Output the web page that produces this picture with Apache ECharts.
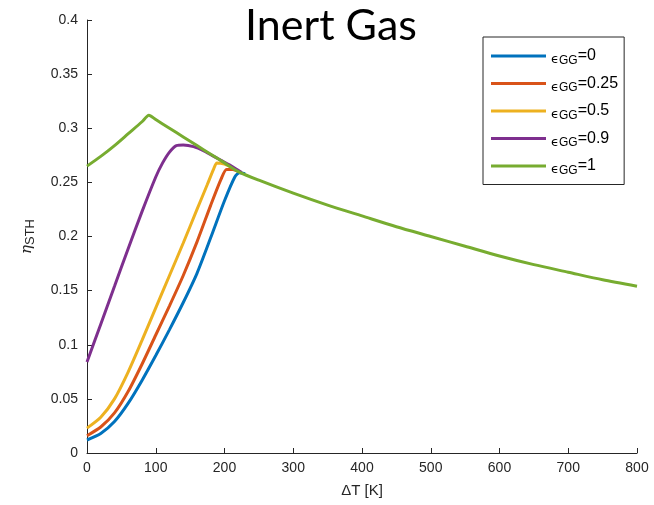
<!DOCTYPE html>
<html>
<head>
<meta charset="utf-8">
<script src="https://cdn.jsdelivr.net/npm/echarts@6/dist/echarts.min.js"></script>
<style>
  html, body { margin: 0; padding: 0; background: #fff; }
  #chart { width: 654px; height: 505px; }
</style>
</head>
<body>
<div id="chart"></div>
<script>
// Emissivity of the gas gap for each curve
const epsValues = ['0', '0.25', '0.5', '0.9', '1'];
const colors = ['#0072BD', '#D95319', '#EDB120', '#7E2F8E', '#77AC30'];

// [ΔT (K), η_STH] pairs per curve
const eps0 = [[0,0.012],[20,0.018],[40,0.029],[60,0.046],[80,0.067],[100,0.090],[120,0.114],[140,0.139],[160,0.166],[180,0.199],[200,0.233],[215,0.255],[222,0.259],[230,0.258]];
const eps025 = [[0,0.016],[20,0.024],[40,0.037],[60,0.057],[80,0.082],[100,0.109],[120,0.136],[140,0.164],[160,0.195],[180,0.229],[195,0.253],[203,0.262],[212,0.262],[220,0.260]];
const eps05 = [[0,0.023],[20,0.033],[40,0.050],[60,0.075],[80,0.104],[100,0.134],[120,0.164],[140,0.194],[160,0.225],[175,0.248],[184,0.262],[189,0.268],[200,0.267],[210,0.264]];
const eps09 = [[0,0.084],[20,0.119],[40,0.154],[60,0.189],[80,0.223],[100,0.255],[110,0.268],[120,0.278],[130,0.284],[140,0.2845],[155,0.283],[170,0.279],[190,0.272],[210,0.265],[225,0.259]];
const eps1 = [[0,0.265],[20,0.274],[40,0.284],[60,0.295],[80,0.306],[90,0.312],[100,0.308],[120,0.300],[140,0.292],[160,0.284],[180,0.276],[200,0.268],[220,0.260],[250,0.252],[300,0.240],[350,0.229],[400,0.219],[450,0.209],[500,0.200],[550,0.191],[600,0.182],[650,0.174],[700,0.167],[750,0.160],[800,0.154]];

const curves = [eps0, eps025, eps05, eps09, eps1];
const names = epsValues.map(v => 'ϵGG=' + v);

const axisColor = '#262626';
const chart = echarts.init(document.getElementById('chart'), null, { renderer: 'canvas' });

chart.setOption({
  animation: false,
  color: colors,
  title: {
    text: 'Inert Gas',
    left: 326,
    top: 0,
    textAlign: 'center',
    textStyle: { fontFamily: 'Lato', fontWeight: 'normal', fontSize: 43, color: '#000' }
  },
  grid: { left: 87, right: 17, top: 20, bottom: 52 },
  legend: {
    orient: 'vertical',
    left: 483,
    top: 37,
    padding: [11, 6, 8, 8],
    itemWidth: 55,
    itemHeight: 3,
    itemGap: 9,
    icon: 'rect',
    borderColor: '#262626',
    borderWidth: 1,
    backgroundColor: '#fff',
    data: names,
    formatter: name => {
      const v = name.split('=')[1];
      return '{e|ϵ}{s|GG}{v|=' + v + '}';
    },
    textStyle: {
      fontFamily: 'Liberation Sans',
      color: '#000',
      rich: {
        e: { fontFamily: 'DejaVu Sans', fontSize: 13, color: '#000', verticalAlign: 'bottom' },
        s: { fontFamily: 'Liberation Sans', fontSize: 12, color: '#000', padding: [9, 0, 0, 0] },
        v: { fontFamily: 'Liberation Sans', fontSize: 16, color: '#000' }
      }
    }
  },
  xAxis: {
    type: 'value',
    min: 0, max: 800, interval: 100,
    name: 'ΔT [K]',
    nameLocation: 'middle',
    nameGap: 30,
    nameTextStyle: { fontFamily: 'Liberation Sans', fontSize: 15, color: axisColor },
    axisLine: { lineStyle: { color: axisColor, width: 1 } },
    axisTick: { inside: true, length: 5, lineStyle: { color: axisColor } },
    axisLabel: { fontFamily: 'Liberation Sans', fontSize: 14, color: axisColor, margin: 8 },
    splitLine: { show: false }
  },
  yAxis: {
    type: 'value',
    min: 0, max: 0.4, interval: 0.05,
    name: '{n|η}{s|STH}',
    nameLocation: 'middle',
    nameGap: 50,
    nameRotate: 90,
    nameTextStyle: {
      rich: {
        n: { fontFamily: 'DejaVu Serif', fontStyle: 'italic', fontSize: 15, color: axisColor },
        s: { fontFamily: 'Liberation Sans', fontSize: 13, color: axisColor, padding: [6, 0, 0, 0] }
      }
    },
    axisLine: { show: true, lineStyle: { color: axisColor, width: 1 } },
    axisTick: { show: true, inside: true, length: 5, lineStyle: { color: axisColor } },
    axisLabel: { fontFamily: 'Liberation Sans', fontSize: 14, color: axisColor, margin: 9 },
    splitLine: { show: false }
  },
  series: curves.map((d, i) => ({
    name: names[i],
    type: 'line',
    data: d,
    smooth: 0.25,
    showSymbol: false,
    lineStyle: { width: 3, color: colors[i] },
    itemStyle: { color: colors[i] },
    z: 2 + i
  }))
});
</script>
</body>
</html>
